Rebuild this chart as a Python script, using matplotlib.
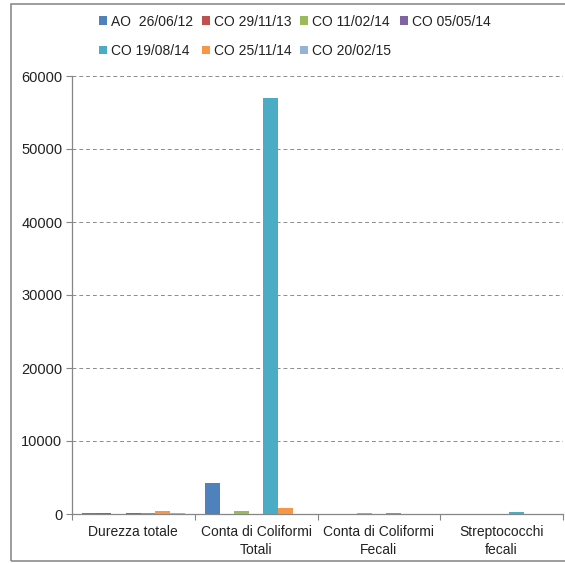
import numpy as np
import matplotlib
matplotlib.use("Agg")
import matplotlib.pyplot as plt
from matplotlib.patches import Rectangle

plt.rcParams['font.family'] = ['Liberation Sans', 'DejaVu Sans']

categories = ["Durezza totale", "Conta di Coliformi\nTotali",
              "Conta di Coliformi\nFecali", "Streptococchi\nfecali"]
series_names = ["AO  26/06/12", "CO 29/11/13", "CO 11/02/14", "CO 05/05/14",
                "CO 19/08/14", "CO 25/11/14", "CO 20/02/15"]
colors = ["#4F81BD", "#C0504D", "#9BBB59", "#8064A2",
          "#4BACC6", "#F79646", "#95B3D7"]

# values per series, one entry per category
ao_260612 = [200, 4200, 0, 0]
co_291113 = [200, 60, 0, 0]
co_110214 = [0, 350, 150, 0]
co_050514 = [150, 0, 0, 0]
co_190814 = [150, 57000, 150, 250]
co_251114 = [400, 850, 0, 0]
co_200215 = [150, 0, 0, 0]
values = [ao_260612, co_291113, co_110214, co_050514,
          co_190814, co_251114, co_200215]

fig = plt.figure(figsize=(5.65, 5.63), dpi=100)
ax = fig.add_axes([72/565, 1-514/563, (563-72)/565, (514-76)/563])

n = len(values)
bw = 0.835 / n
x = np.arange(len(categories))
bars = []
for i, (vals, c) in enumerate(zip(values, colors)):
    b = ax.bar(x - 0.835/2 + bw*(i+0.5), vals, width=bw, color=c, zorder=3)
    bars.append(b)

ax.set_xlim(-0.5, len(categories) - 0.5)
ax.set_ylim(0, 60000)
ax.set_yticks(np.arange(0, 60001, 10000))
ax.yaxis.grid(True, linestyle=(0, (4, 3)), color="#8c8c8c", linewidth=0.7, zorder=0)

ax.set_xticks(np.arange(-0.5, len(categories)), minor=False)
ax.set_xticklabels([])
ax.set_xticks(x, minor=True)
ax.set_xticklabels(categories, minor=True, fontsize=10, color="#222222",
                   linespacing=1.35)
ax.tick_params(axis="x", which="minor", length=0, pad=8)
ax.tick_params(axis="x", which="major", length=4, color="#868686", direction="out")
ax.tick_params(axis="y", length=4, color="#868686", labelsize=10.5,
               labelcolor="#222222", pad=3)

for s in ["top", "right"]:
    ax.spines[s].set_visible(False)
for s in ["left", "bottom"]:
    ax.spines[s].set_color("#868686")
    ax.spines[s].set_linewidth(0.9)

order = [0, 4, 1, 5, 2, 6, 3]
fig.legend([bars[i] for i in order], [series_names[i] for i in order],
           ncol=4, loc="upper left", bbox_to_anchor=(93/565, 1-9/563),
           frameon=False, fontsize=10, handlelength=0.6, handleheight=0.6,
           handletextpad=0.3, columnspacing=0.6, labelspacing=1.1,
           borderaxespad=0, labelcolor="#222222")

fig.patches.append(Rectangle((11/565, 2/563), 1.2, 1 - 6/563, fill=False,
                             edgecolor="#8c8c8c", linewidth=1.2,
                             transform=fig.transFigure))

fig.savefig("out.png", dpi=100)
